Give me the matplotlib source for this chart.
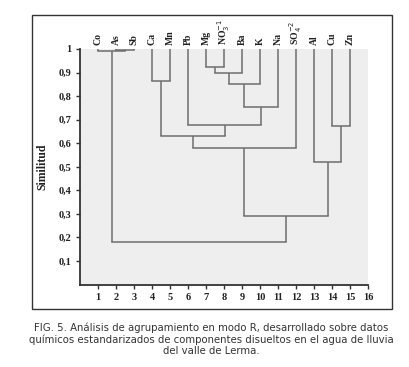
import matplotlib
matplotlib.use("Agg")
import matplotlib.pyplot as plt
from matplotlib.patches import Rectangle
import matplotlib.transforms as mtransforms

# ---- data ----
leaf_labels = ["Co", "As", "Sb", "Ca", "Mn", "Pb", "Mg", r"NO$_3^{-1}$", "Ba", "K",
               "Na", r"SO$_4^{-2}$", "Al", "Cu", "Zn"]
# merges (scipy-like numbering: leaves 0..14, new clusters 15..)
merge_left = [1, 0, 3, 6, 18, 19, 20, 5, 17, 23, 13, 12, 24, 16]
merge_right = [2, 15, 4, 7, 8, 9, 10, 21, 22, 11, 14, 25, 26, 27]
merge_sim = [0.995, 0.99, 0.864, 0.925, 0.897, 0.85, 0.755, 0.677, 0.63, 0.578,
             0.673, 0.52, 0.291, 0.18]
x_ticks = list(range(1, 17))
y_ticks = [0.1, 0.2, 0.3, 0.4, 0.5, 0.6, 0.7, 0.8, 0.9, 1.0]
y_ticklabels = ["0,1", "0,2", "0,3", "0,4", "0,5", "0,6", "0,7", "0,8", "0,9", "1"]
caption = ("FIG. 5. Análisis de agrupamiento en modo R, desarrollado sobre datos\n"
           "químicos estandarizados de componentes disueltos en el agua de lluvia\n"
           "del valle de Lerma.")

W, H = 409, 367
fig = plt.figure(figsize=(W / 100, H / 100), dpi=100)
fig.patch.set_facecolor("white")

serif = ["Liberation Serif", "DejaVu Serif"]

def fx(px):
    return px / W

def fy(py):
    return 1 - py / H

# border box
fig.add_artist(Rectangle((fx(32), fy(309)), fx(392) - fx(32), fy(15) - fy(309),
                         transform=fig.transFigure, fill=False,
                         edgecolor="#333333", linewidth=1.0))

ax = fig.add_axes([fx(80), fy(284.6), fx(368) - fx(80), fy(49) - fy(284.6)])
ax.set_facecolor("#eeeeee")
ax.set_xlim(0, 16)
ax.set_ylim(0, 1.0)

# dendrogram
n = len(leaf_labels)
pos = {i: i + 1 for i in range(n)}
hgt = {i: 1.0 for i in range(n)}
lc = "#6e6e6e"
lw = 1.1
for k, (a, b, h) in enumerate(zip(merge_left, merge_right, merge_sim)):
    xa, xb = pos[a], pos[b]
    ax.plot([xa, xa], [hgt[a], h], color=lc, lw=lw, solid_capstyle="butt", clip_on=False)
    ax.plot([xb, xb], [hgt[b], h], color=lc, lw=lw, solid_capstyle="butt", clip_on=False)
    ax.plot([xa, xb], [h, h], color=lc, lw=lw, solid_capstyle="projecting", clip_on=False)
    pos[n + k] = (xa + xb) / 2
    hgt[n + k] = h

# leaf labels
trans = mtransforms.blended_transform_factory(ax.transData, ax.transAxes)
for i, lab in enumerate(leaf_labels):
    ax.text(i + 1, 1.0 + 4 / 235.6, lab, rotation=90, ha="center", va="bottom",
            transform=trans, fontsize=7, fontweight="bold", family=serif,
            color="#222222")

for s in ["top", "right"]:
    ax.spines[s].set_visible(False)
for s in ["left", "bottom"]:
    ax.spines[s].set_color("#333333")
    ax.spines[s].set_linewidth(1.3)

ax.set_xticks(x_ticks)
ax.set_xticklabels([str(v) for v in x_ticks])
ax.set_yticks(y_ticks)
ax.set_yticklabels(y_ticklabels)
ax.tick_params(direction="out", length=3, width=1, color="#333333", pad=3)
for lab in ax.get_xticklabels() + ax.get_yticklabels():
    lab.set_fontfamily(serif)
    lab.set_fontweight("bold")
    lab.set_fontsize(7.5)
    lab.set_color("#222222")

fig.text(fx(42), fy(167), "Similitud", rotation=90, ha="center", va="center",
         fontsize=8.5, fontweight="bold", family=serif, color="#222222")

fig.text(fx(211), fy(339), caption, ha="center", va="center", fontsize=7.3,
         family="DejaVu Sans", color="#333333", linespacing=1.15)

fig.savefig("out.png", dpi=100)
